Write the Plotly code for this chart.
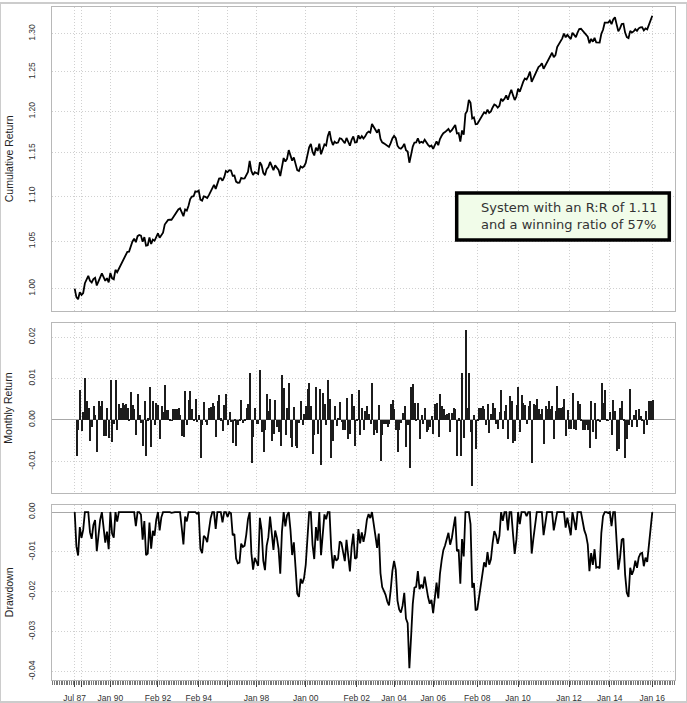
import numpy as np
import plotly.graph_objects as go

# ---------------- data ----------------
ret_a = [-0.0086, -0.0023, 0.0072, -0.0027, 0.0020, 0.0101, 0.0046, 0.0030, -0.0051, -0.0016,
         0.0035, 0.0012, -0.0078, 0.0046, 0.0034, 0.0045, -0.0038, -0.0039, 0.0028, -0.0044,
         0.0097, -0.0054, -0.0010, 0.0097, -0.0024, 0.0038, 0.0029, 0.0040, 0.0036, 0.0038,
         0.0030, 0.0002, 0.0068, 0.0037, 0.0027, -0.0035, 0.0062, 0.0012, -0.0006, -0.0063,
         0.0047, -0.0086, 0.0004, 0.0079, -0.0066, 0.0045, -0.0012, 0.0040, 0.0037, -0.0046,
         0.0033, 0.0020, 0.0084, 0.0024]
ret_b = [0.0024, 0.0003, -0.0002, 0.0026, 0.0026, 0.0026, 0.0028, 0.0012, -0.0039, -0.0042,
         0.0070, -0.0012, 0.0049, 0.0070, 0.0026, 0.0003, 0.0050, -0.0004, 0.0012, -0.0092,
         -0.0011, 0.0044, -0.0005, -0.0011, 0.0029, 0.0031, 0.0042, 0.0034, -0.0042, 0.0046,
         0.0060, 0.0004, -0.0026, 0.0037, 0.0064, -0.0012, 0.0020, -0.0003, -0.0055, 0.0003,
         -0.0062, -0.0012, 0.0002, 0.0048, -0.0008, 0.0003, 0.0028, 0.0039, 0.0114, -0.0103,
         -0.0042, 0.0030, -0.0010, -0.0010, 0.0122, -0.0030, -0.0078]
ret_c = [-0.0024, 0.0062, 0.0022, 0.0052, -0.0050, -0.0034, 0.0049, -0.0018, -0.0028, -0.0063,
         0.0108, 0.0078, -0.0036, 0.0028, 0.0090, -0.0044, -0.0064, 0.0032, -0.0063, -0.0067,
         -0.0008, 0.0046, -0.0012, 0.0014, 0.0034, 0.0074, 0.0089, 0.0034, -0.0082, -0.0036,
         0.0081, -0.0034, 0.0074, -0.0108, 0.0065, 0.0038, -0.0012, 0.0098, 0.0050, -0.0092,
         -0.0050, 0.0034, -0.0014, 0.0005, 0.0044, -0.0004, -0.0023, -0.0023, 0.0054, -0.0046,
         -0.0034, 0.0062, 0.0034, -0.0063, 0.0003]
ret_d = [0.0072, -0.0036, 0.0028, -0.0024, 0.0022, 0.0034, 0.0014, -0.0010, 0.0090, -0.0036,
         -0.0023, -0.0031, 0.0036, -0.0100, -0.0035, -0.0010, -0.0010, -0.0017, -0.0010, 0.0039,
         0.0049, 0.0026, -0.0023, -0.0078, -0.0023, -0.0008, 0.0018, 0.0033, -0.0066, -0.0012,
         -0.0116, 0.0081, 0.0086, 0.0042, 0.0002, 0.0040, -0.0046, 0.0012, -0.0010, 0.0030,
         -0.0028, -0.0024, -0.0017, 0.0010, -0.0034, 0.0038, 0.0040, -0.0040, 0.0063, 0.0034,
         0.0026, 0.0012, 0.0015, 0.0017, -0.0030, 0.0017, 0.0028, 0.0026, -0.0087]
ret_e = [0.0004, -0.0086, 0.0114, -0.0044, 0.0218, 0.0030, 0.0114, -0.0030, -0.0160, 0.0012,
         -0.0070, 0.0003, 0.0030, 0.0030, 0.0034, 0.0026, -0.0012, 0.0038, -0.0032, 0.0014,
         0.0041, 0.0030, -0.0010, -0.0022, 0.0020, 0.0072, -0.0022, 0.0022, 0.0036, -0.0046,
         0.0057, 0.0046, -0.0055, -0.0050, 0.0036, 0.0080, -0.0030, 0.0060, 0.0041, 0.0036,
         -0.0010, 0.0034, 0.0046, -0.0104, 0.0038, 0.0036, 0.0052, 0.0026, 0.0014, 0.0026,
         -0.0058, 0.0034, 0.0026, 0.0046, 0.0026]
ret_f = [0.0034, -0.0046, 0.0022, 0.0082, 0.0030, 0.0030, 0.0031, 0.0050, -0.0039, 0.0025,
         -0.0022, -0.0022, 0.0066, -0.0022, -0.0023, 0.0046, 0.0038, 0.0002, -0.0023, -0.0023,
         -0.0012, -0.0023, -0.0068, 0.0046, -0.0030, 0.0040, -0.0047, 0.0002, -0.0003, 0.0090,
         0.0042, 0.0073, 0.0003, -0.0002, 0.0020, -0.0035, 0.0049, 0.0022, -0.0074, -0.0071,
         0.0030, 0.0046, 0.0003, -0.0091, -0.0046, -0.0011, 0.0075, -0.0018, 0.0012, 0.0024,
         -0.0018, 0.0026, 0.0010, 0.0002, -0.0034, 0.0022, -0.0011, 0.0046, 0.0046, 0.0049]

tick_index = [0, 4, 21, 49, 73, 90, 107, 136, 166, 188, 211, 237, 261, 291, 315, 340]
tick_labels = ["Jul 87", "", "Jan 90", "Feb 92", "Feb 94", "", "Jan 98", "Jan 00",
               "Feb 02", "Jan 04", "Jan 06", "Feb 08", "Jan 10", "Jan 12", "Jan 14", "Jan 16"]

cum_ticks = [1.00, 1.05, 1.10, 1.15, 1.20, 1.25, 1.30]
ret_ticks = [-0.01, 0.00, 0.01, 0.02]
dd_ticks = [-0.04, -0.03, -0.02, -0.01, 0.00]

legend_text = "System with an R:R of 1.11<br>and a winning ratio of 57%"

# ---------------- derived series ----------------
returns = np.array(ret_a + ret_b + ret_c + ret_d + ret_e + ret_f)
n = len(returns)
wealth = np.concatenate([[1.0], np.cumprod(1.0 + returns)])
drawdown = wealth / np.maximum.accumulate(wealth) - 1.0
idx_line = np.arange(n + 1)
idx_bar = np.arange(1, n + 1)

# ---------------- layout geometry ----------------
W, H = 687, 703
def px_x(p):
    return p / W
def px_y(p):
    return 1 - p / H

x_left, x_right = 51.7, 675.0
x_first, x_last = 74.7, 652.3
upp = n / (x_last - x_first)
xrange = [0 - (x_first - x_left) * upp, n + (x_right - x_last) * upp]

xdom = [px_x(x_left), px_x(x_right)]
dom1 = [px_y(309.3), px_y(4.0)]
dom2 = [px_y(493.3), px_y(321.7)]
dom3 = [px_y(681.0), px_y(505.0)]

GRID = "#d0d0d0"
GDASH = "1px,2px"
FRAME = "#b8b8b8"
TXT = "#333333"
FONT = "Liberation Sans, Arial, sans-serif"

fig = go.Figure()
fig.add_trace(go.Scatter(x=idx_line, y=wealth, mode="lines",
                         line=dict(color="black", width=1.8), xaxis="x", yaxis="y",
                         showlegend=False, hoverinfo="skip"))
fig.add_trace(go.Bar(x=idx_bar, y=returns, width=0.65,
                     marker=dict(color="#1c1c1c", line=dict(width=0)),
                     xaxis="x2", yaxis="y2", showlegend=False, hoverinfo="skip"))
fig.add_trace(go.Scatter(x=idx_line, y=drawdown, mode="lines",
                         line=dict(color="black", width=1.8), xaxis="x3", yaxis="y3",
                         showlegend=False, hoverinfo="skip"))

def xaxis_common(show_labels):
    d = dict(domain=xdom, range=xrange, tickmode="array", tickvals=tick_index,
             ticktext=tick_labels, showgrid=True, gridcolor=GRID, griddash=GDASH,
             gridwidth=1, zeroline=False, showline=True, linecolor=FRAME, mirror=True,
             linewidth=1, fixedrange=True)
    if show_labels:
        d.update(ticks="outside", ticklen=6, tickcolor="#444444", tickwidth=1,
                 showticklabels=True, ticklabelstandoff=4,
                 tickfont=dict(family=FONT, size=8.5, color=TXT),
                 minor=dict(dtick=1, tick0=0, ticks="outside", ticklen=4,
                            tickcolor="#777777", tickwidth=0.6, showgrid=False))
    else:
        d.update(ticks="", showticklabels=False)
    return d

def yaxis_common(dom, anchor, rng, vals, fmt, typ="linear", zl=False):
    return dict(domain=dom, anchor=anchor, range=rng, type=typ, tickmode="array",
                tickvals=vals, ticktext=[fmt.format(v) for v in vals],
                tickangle=-90, tickfont=dict(family=FONT, size=8.5, color=TXT),
                ticks="", ticklabelstandoff=12, showgrid=True, gridcolor=GRID,
                griddash=GDASH, gridwidth=1, zeroline=zl, zerolinecolor="#a8a8a8",
                zerolinewidth=1, showline=True, linecolor=FRAME, mirror=True,
                linewidth=1, fixedrange=True)

log_lo = np.log10(1.0) - (309.3 - 287.3) / 2249.7
log_hi = np.log10(1.3) + (31.0 - 4.0) / 2249.7

fig.update_layout(
    width=W, height=H, margin=dict(l=0, r=0, t=0, b=0),
    paper_bgcolor="white", plot_bgcolor="white", bargap=0,
    xaxis=dict(xaxis_common(False), anchor="y"),
    xaxis2=dict(xaxis_common(False), anchor="y2"),
    xaxis3=dict(xaxis_common(True), anchor="y3"),
    yaxis=yaxis_common(dom1, "x", [log_lo, log_hi], cum_ticks, "{:.2f}", typ="log"),
    yaxis2=yaxis_common(dom2, "x2", [-0.01779, 0.02346], ret_ticks, "{:.2f}", zl=True),
    yaxis3=yaxis_common(dom3, "x3", [-0.04215, 0.00175], dd_ticks, "{:.2f}", zl=True),
)

# axis titles
for text, yc in [("Cumulative Return", (4.0 + 309.3) / 2),
                 ("Monthly Return", (321.7 + 493.3) / 2),
                 ("Drawdown", (505.0 + 681.0) / 2)]:
    fig.add_annotation(text=text, x=px_x(8.5), y=px_y(yc), xref="paper", yref="paper",
                       textangle=-90, showarrow=False, xanchor="center", yanchor="middle",
                       font=dict(family=FONT, size=10.5, color="#222222"))

# legend box
fig.add_shape(type="rect", xref="paper", yref="paper",
              x0=px_x(456.7), x1=px_x(669.3), y0=px_y(238.3), y1=px_y(191.0),
              line=dict(color="black", width=3.5), fillcolor="#F1FCE9", layer="above")
fig.add_annotation(text=legend_text, x=px_x(478.5), y=px_y(214.6), xref="paper",
                   yref="paper", showarrow=False, xanchor="left", yanchor="middle",
                   align="left", font=dict(family="DejaVu Sans", size=13, color="#333333"))

# outer frame
fig.add_shape(type="rect", xref="paper", yref="paper", x0=0, x1=1, y0=0, y1=1,
              line=dict(color="#cccccc", width=2), layer="below")

fig.write_html("out.html")
